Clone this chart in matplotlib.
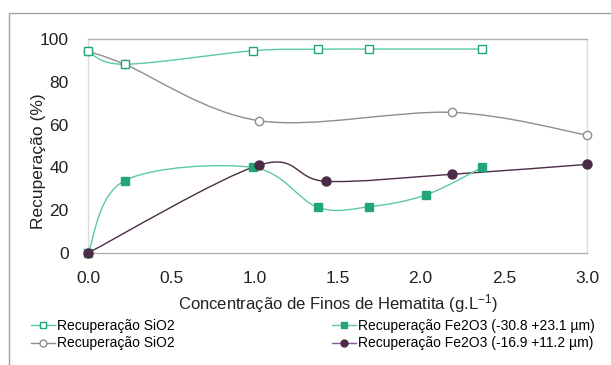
import numpy as np
import matplotlib
matplotlib.use("Agg")
import matplotlib.pyplot as plt
from matplotlib.path import Path
from matplotlib.patches import PathPatch, Rectangle
from matplotlib.lines import Line2D

plt.rcParams['font.family'] = ['Liberation Sans', 'DejaVu Sans']
plt.rcParams['mathtext.default'] = 'regular'

# Recuperação SiO2 (quadrados abertos)
x_sio2_a = [0.0, 0.22, 0.99, 1.38, 1.69, 2.37]
y_sio2_a = [94.2, 88.2, 94.5, 95.2, 95.3, 95.3]

# Recuperação SiO2 (círculos abertos)
x_sio2_b = [0.0, 0.22, 1.03, 2.19, 3.0]
y_sio2_b = [94.2, 88.2, 61.8, 65.7, 55.1]

# Recuperação Fe2O3 (-30.8 +23.1 µm)
x_fe_a = [0.0, 0.22, 0.99, 1.38, 1.69, 2.03, 2.37]
y_fe_a = [0.0, 33.8, 40.0, 21.4, 21.6, 27.1, 40.0]

# Recuperação Fe2O3 (-16.9 +11.2 µm)
x_fe_b = [0.0, 1.03, 1.43, 2.19, 3.0]
y_fe_b = [0.0, 41.1, 33.5, 36.8, 41.4]

labels = ['Recuperação SiO2', 'Recuperação SiO2',
          'Recuperação Fe2O3 (-30.8 +23.1 µm)', 'Recuperação Fe2O3 (-16.9 +11.2 µm)']

GREEN_L = '#5cc9a2'
GREEN = '#22a57c'
GRAY = '#8e8e8e'
PURPLE = '#4b2b45'


def curva_suave(ax, xs, ys, cor, lw=1.0):
    # linha suavizada estilo Excel (Bezier tipo Catmull-Rom)
    p = np.column_stack([xs, ys]).astype(float)
    n = len(p)
    verts = [p[0]]
    codes = [Path.MOVETO]
    for i in range(n - 1):
        p0 = p[i - 1] if i > 0 else p[i]
        p3 = p[i + 2] if i + 2 < n else p[i + 1]
        c1 = p[i] + (p[i + 1] - p0) / 6.0
        c2 = p[i + 1] - (p3 - p[i]) / 6.0
        verts += [c1, c2, p[i + 1]]
        codes += [Path.CURVE4] * 3
    ax.add_patch(PathPatch(Path(verts, codes), fill=False, edgecolor=cor, lw=lw, zorder=2))


fig = plt.figure(figsize=(6.11, 3.65), dpi=100)
ax = fig.add_axes([88 / 611, 1 - 253 / 365, (587 - 88) / 611, (253 - 39) / 365])

curva_suave(ax, x_sio2_b, y_sio2_b, GRAY)
curva_suave(ax, x_fe_b, y_fe_b, PURPLE, lw=1.0)
curva_suave(ax, x_fe_a, y_fe_a, GREEN_L)
curva_suave(ax, x_sio2_a, y_sio2_a, GREEN_L)

ax.plot(x_sio2_b, y_sio2_b, 'o', ms=6, mfc='white', mec=GRAY, mew=1.0, ls='none', zorder=3, clip_on=False)
ax.plot(x_sio2_a, y_sio2_a, 's', ms=6, mfc='white', mec=GREEN, mew=1.0, ls='none', zorder=4, clip_on=False)
ax.plot(x_fe_a, y_fe_a, 's', ms=5.5, mfc=GREEN, mec=GREEN, ls='none', zorder=4, clip_on=False)
ax.plot(x_fe_b, y_fe_b, 'o', ms=6.5, mfc=PURPLE, mec=PURPLE, ls='none', zorder=5, clip_on=False)

ax.set_xlim(0, 3.0)
ax.set_ylim(0, 100)
ax.set_xticks(np.arange(0, 3.01, 0.5))
ax.set_xticklabels([f'{v:.1f}' for v in np.arange(0, 3.01, 0.5)])
ax.set_yticks(range(0, 101, 20))
ax.tick_params(labelsize=12.5, colors='#222222', length=0)
ax.tick_params(axis='y', pad=14)
ax.tick_params(axis='x', pad=13)
for s in ['top', 'bottom']:
    ax.spines[s].set_color('#b0b0b0')
for s in ['left', 'right']:
    ax.spines[s].set_color('#dcdcdc')
for s in ax.spines.values():
    s.set_linewidth(1.0)

ax.set_xlabel('Concentração de Finos de Hematita (g.L$^{-1}$)', fontsize=12, color='#222222', labelpad=4)
ax.set_ylabel('Recuperação (%)', fontsize=12.5, color='#222222')
ax.yaxis.set_label_coords(-0.085, 0.43)

handles = [
    Line2D([], [], color=GREEN_L, marker='s', ms=5, mfc='white', mec=GREEN, lw=1),
    Line2D([], [], color=GRAY, marker='o', ms=5, mfc='white', mec=GRAY, lw=1),
    Line2D([], [], color=GREEN_L, marker='s', ms=5, mfc=GREEN, mec=GREEN, lw=1),
    Line2D([], [], color='#8a5a9a', marker='o', ms=5, mfc=PURPLE, mec=PURPLE, lw=1),
]
fig.legend(handles, labels, ncol=2, loc='upper left', bbox_to_anchor=(31 / 611, 1 - 319 / 365),
           frameon=False, fontsize=10, handlelength=1.7, handletextpad=0.2,
           columnspacing=11.3, labelspacing=0.25, borderpad=0, borderaxespad=0)

fig.add_artist(Rectangle((9 / 611, -0.05), 1.2, 1 - 13 / 365 + 0.05, transform=fig.transFigure,
                         fill=False, edgecolor='#a0a0a0', lw=1.0))

fig.savefig('out.png', dpi=100)
